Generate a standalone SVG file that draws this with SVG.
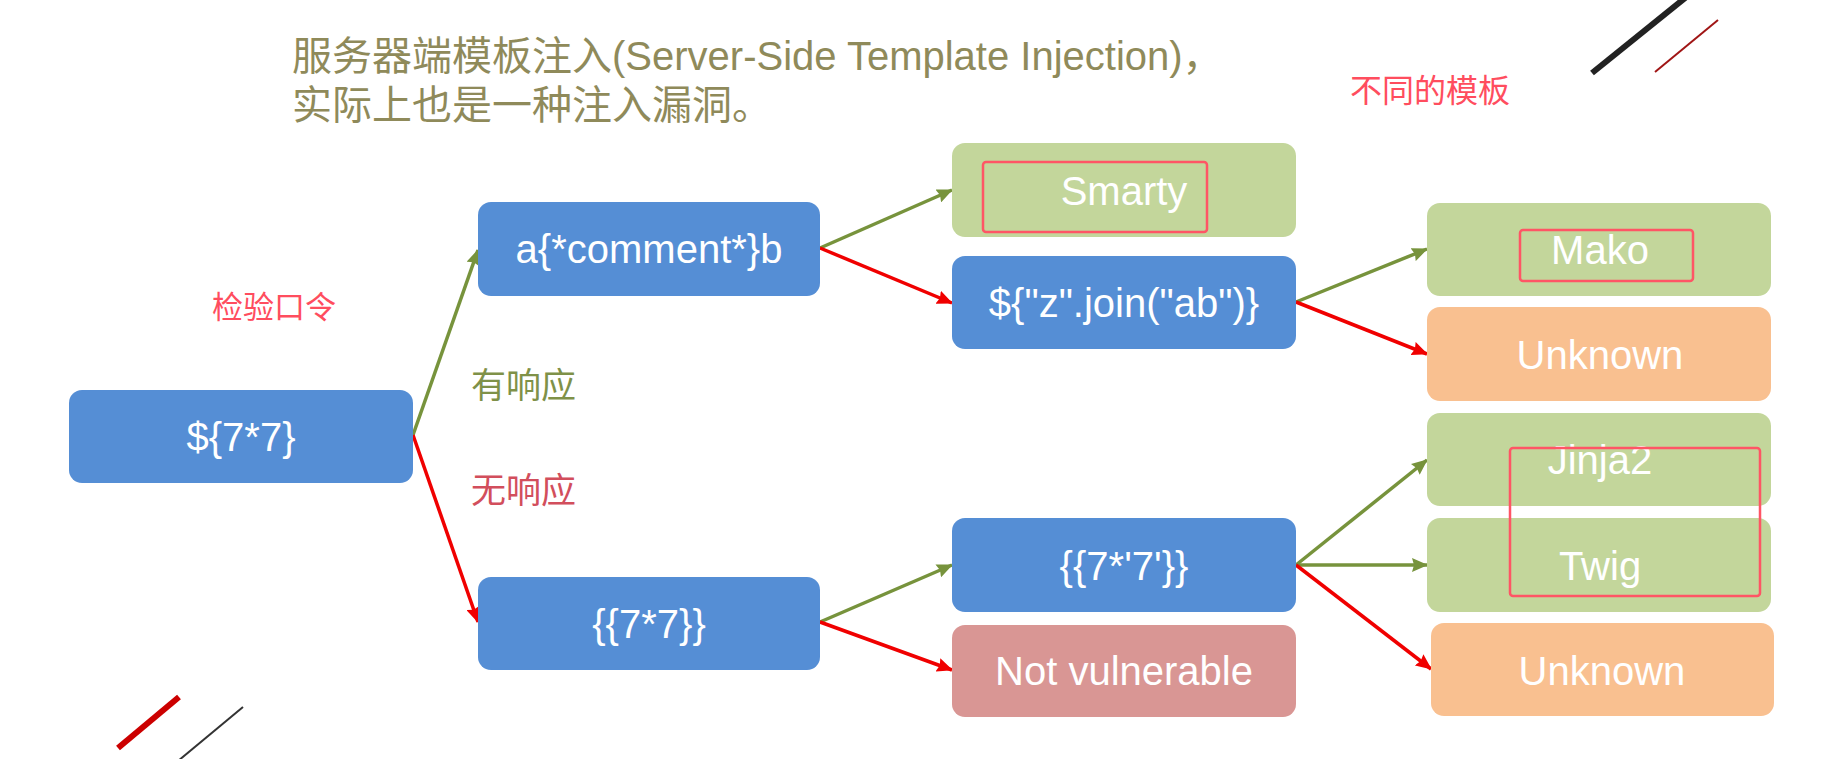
<svg xmlns="http://www.w3.org/2000/svg" width="1830" height="759" viewBox="0 0 1830 759">
<style>
  text { font-family: "Liberation Sans", "Noto Sans CJK SC", sans-serif; }
  .blue { fill: #558ed5; }
  .green { fill: #c3d69b; }
  .orange { fill: #f9c090; }
  .pink { fill: #d99694; }
  .lbl { fill: #ffffff; font-size: 40px; text-anchor: middle; }
  .hl { fill: none; stroke: #ff5565; stroke-width: 2.5; }
  .g { stroke: #77933c; stroke-width: 3.5; fill: none; marker-end: url(#ag); }
  .r { stroke: #f00000; stroke-width: 3.5; fill: none; marker-end: url(#ar); }
</style>
<defs>
  <marker id="ag" viewBox="0 0 16 14" refX="15" refY="7" markerWidth="16" markerHeight="14" markerUnits="userSpaceOnUse" orient="auto">
    <path d="M0,0 L16,7 L0,14 L2,7 Z" fill="#77933c"/>
  </marker>
  <marker id="ar" viewBox="0 0 16 14" refX="15" refY="7" markerWidth="16" markerHeight="14" markerUnits="userSpaceOnUse" orient="auto">
    <path d="M0,0 L16,7 L0,14 L2,7 Z" fill="#f00000"/>
  </marker>
</defs>
<rect width="1830" height="759" fill="#ffffff"/>

<g id="decor">
  <line x1="1592" y1="73" x2="1690" y2="-6" stroke="#222222" stroke-width="6"/>
  <line x1="1655" y1="72" x2="1718" y2="20" stroke="#a01515" stroke-width="2"/>
  <line x1="118" y1="748" x2="179" y2="697" stroke="#cc0000" stroke-width="6"/>
  <line x1="178" y1="761" x2="243" y2="707" stroke="#333333" stroke-width="2"/>
</g>

<g id="title" fill="#8f8a5a" font-size="40">
  <text x="292" y="70">服务器端模板注入(Server-Side Template Injection)，</text>
  <text x="292" y="119">实际上也是一种注入漏洞。</text>
</g>

<g id="notes">
  <text x="1350" y="102" font-size="32" fill="#ff4d5e">不同的模板</text>
  <text x="212" y="318" font-size="31" fill="#ff4d5e">检验口令</text>
  <text x="471" y="398" font-size="35" fill="#7f9148">有响应</text>
  <text x="471" y="503" font-size="35" fill="#d24e5c">无响应</text>
</g>

<g id="connectors">
  <line class="g" x1="413" y1="435" x2="478" y2="250"/>
  <line class="r" x1="413" y1="435" x2="478" y2="622"/>
  <line class="g" x1="820" y1="248" x2="952" y2="190"/>
  <line class="r" x1="820" y1="248" x2="952" y2="303"/>
  <line class="g" x1="1296" y1="302" x2="1427" y2="249"/>
  <line class="r" x1="1296" y1="302" x2="1427" y2="354"/>
  <line class="g" x1="820" y1="622" x2="952" y2="565"/>
  <line class="r" x1="820" y1="622" x2="952" y2="670"/>
  <line class="g" x1="1296" y1="565" x2="1427" y2="460"/>
  <line class="g" x1="1296" y1="565" x2="1427" y2="565"/>
  <line class="r" x1="1296" y1="565" x2="1431" y2="669"/>
</g>

<g id="n-start">
  <rect class="blue" x="69" y="390" width="344" height="93" rx="13"/>
  <text class="lbl" x="241" y="451">${7*7}</text>
</g>
<g id="n-comment">
  <rect class="blue" x="478" y="202" width="342" height="94" rx="13"/>
  <text class="lbl" x="649" y="263">a{*comment*}b</text>
</g>
<g id="n-curly">
  <rect class="blue" x="478" y="577" width="342" height="93" rx="13"/>
  <text class="lbl" x="649" y="638">{{7*7}}</text>
</g>
<g id="n-smarty">
  <rect class="green" x="952" y="143" width="344" height="94" rx="13"/>
  <text class="lbl" x="1124" y="205">Smarty</text>
  <rect class="hl" x="983" y="162" width="224" height="70" rx="3"/>
</g>
<g id="n-join">
  <rect class="blue" x="952" y="256" width="344" height="93" rx="13"/>
  <text class="lbl" x="1124" y="317">${"z".join("ab")}</text>
</g>
<g id="n-curly7">
  <rect class="blue" x="952" y="518" width="344" height="94" rx="13"/>
  <text class="lbl" x="1124" y="580">{{7*'7'}}</text>
</g>
<g id="n-notvuln">
  <rect class="pink" x="952" y="625" width="344" height="92" rx="13"/>
  <text class="lbl" x="1124" y="685">Not vulnerable</text>
</g>
<g id="n-mako">
  <rect class="green" x="1427" y="203" width="344" height="93" rx="13"/>
  <text class="lbl" x="1600" y="264">Mako</text>
  <rect class="hl" x="1520" y="230" width="173" height="51" rx="3"/>
</g>
<g id="n-unknown1">
  <rect class="orange" x="1427" y="307" width="344" height="94" rx="13"/>
  <text class="lbl" x="1600" y="369">Unknown</text>
</g>
<g id="n-jinja2">
  <rect class="green" x="1427" y="413" width="344" height="93" rx="13"/>
  <text class="lbl" x="1600" y="474">Jinja2</text>
</g>
<g id="n-twig">
  <rect class="green" x="1427" y="518" width="344" height="94" rx="13"/>
  <text class="lbl" x="1600" y="580">Twig</text>
</g>
<g id="n-unknown2">
  <rect class="orange" x="1431" y="623" width="343" height="93" rx="13"/>
  <text class="lbl" x="1602" y="685">Unknown</text>
</g>
<g id="hl-group">
  <rect class="hl" x="1510" y="448" width="250" height="148" rx="3"/>
</g>
</svg>
